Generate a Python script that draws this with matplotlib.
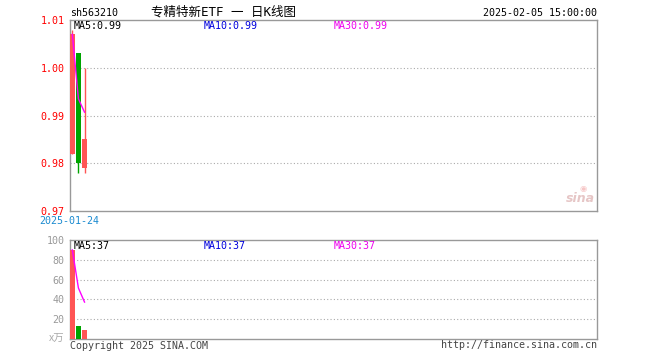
import matplotlib
matplotlib.use("Agg")
import matplotlib.pyplot as plt

# ---- data ----
dates = ["2025-01-24", "2025-01-27", "2025-02-05"]
opens = [0.982, 1.003, 0.979]
closes = [1.007, 0.980, 0.985]
highs = [1.008, 1.003, 1.000]
lows = [0.982, 0.978, 0.978]
ma5_price = [1.007, 0.9935, 0.9907]
volumes = [90, 13, 9]
ma5_vol = [90, 51.5, 37.3]
price_ticks = [0.97, 0.98, 0.99, 1.00, 1.01]
vol_ticks = [0, 20, 40, 60, 80, 100]
vol_tick_labels = ["", "20", "40", "60", "80", "100"]

W, H = 660, 360
fig = plt.figure(figsize=(W / 100, H / 100), dpi=100)
fig.patch.set_facecolor("white")

MONO = "DejaVu Sans Mono"
FS = 7.2
RED = "#ff5555"
GREEN = "#00a400"
SPINE = "#999999"


def fx(px):
    return px / W


def fy(py):
    return 1 - py / H


ax = fig.add_axes([fx(70), fy(211), fx(527), 191 / H])
axv = fig.add_axes([fx(70), fy(339), fx(527), 99 / H])

x = list(range(len(dates)))
xlim = (-0.38, 86.0)

# candles
for i in x:
    up = closes[i] >= opens[i]
    c = RED if up else GREEN
    ax.vlines(i, lows[i], highs[i], color=c, lw=1, zorder=2)
    bottom = min(opens[i], closes[i])
    height = abs(closes[i] - opens[i])
    ax.bar(i, height, bottom=bottom, width=0.8, color=c, lw=0, zorder=3)
ax.plot(x, ma5_price, color="#ff00ff", lw=1, zorder=4)

ax.set_xlim(*xlim)
ax.set_ylim(0.97, 1.01)
ax.set_yticks(price_ticks)
ax.set_yticklabels([f"{t:.2f}" for t in price_ticks], color="#ff0000",
                   fontfamily=MONO, fontsize=FS)
ax.set_xticks([])
ax.tick_params(axis="y", length=0, pad=4)
for yv in [0.98, 0.99, 1.00]:
    ax.axhline(yv, color="#aaaaaa", lw=0.8, ls=(0, (1, 2)), zorder=1)

# volume
for i in x:
    up = closes[i] >= opens[i]
    axv.bar(i, volumes[i], width=0.8, color=RED if up else GREEN, lw=0, zorder=3)
axv.plot(x, ma5_vol, color="#ff00ff", lw=1, zorder=4)
axv.set_xlim(*xlim)
axv.set_ylim(0, 100)
axv.set_yticks(vol_ticks)
axv.set_yticklabels(vol_tick_labels, color="#999999", fontfamily=MONO, fontsize=FS)
axv.set_xticks([])
axv.tick_params(axis="y", length=0, pad=4)
for yv in [20, 40, 60, 80]:
    axv.axhline(yv, color="#aaaaaa", lw=0.8, ls=(0, (1, 2)), zorder=1)

for a in (ax, axv):
    for s in a.spines.values():
        s.set_color(SPINE)
        s.set_linewidth(1)

# MA labels
def ptext(px, py, s, color="black", ha="left", fam=MONO, size=FS, **kw):
    fig.text(fx(px), fy(py), s, color=color, ha=ha, va="center",
             fontfamily=fam, fontsize=size, **kw)

ptext(74, 26, "MA5:0.99")
ptext(204, 26, "MA10:0.99", color="#0000dd")
ptext(334, 26, "MA30:0.99", color="#ee00ee")
ptext(74, 246, "MA5:37")
ptext(204, 246, "MA10:37", color="#0000dd")
ptext(334, 246, "MA30:37", color="#ee00ee")

# header
ptext(70, 13, "sh563210")
ptext(597, 13, "2025-02-05 15:00:00", ha="right")
ptext(151, 12, "专精特新ETF 一 日K线图", fam=[MONO, "Noto Sans CJK SC"], size=9)

# date under chart
ptext(69.5, 221.5, dates[0], color="#1a8ad0", ha="center")

# volume unit
ptext(64, 339, "x万", color="#aaaaaa", ha="right",
      fam=["Noto Sans CJK SC", "DejaVu Sans"], size=7.5)

# footer
ptext(70, 346, "Copyright 2025 SINA.COM", color="#444444")
ptext(597, 345, "http://finance.sina.com.cn", color="#444444", ha="right")

# sina watermark
ptext(595, 199, "sina", color="#e0b8b8", ha="right", fam="DejaVu Sans",
      size=9, fontweight="bold", fontstyle="italic", alpha=0.8)
ptext(583, 189, "◉", color="#f0a0a0", ha="center", fam="DejaVu Sans",
      size=6, alpha=0.6)

fig.savefig("out.png", dpi=100, facecolor="white")
